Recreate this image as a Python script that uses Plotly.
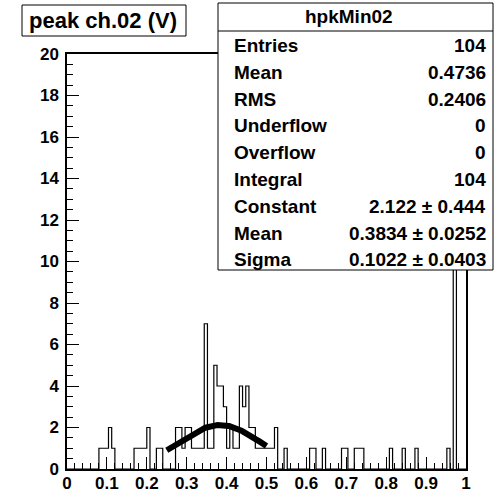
import numpy as np
import plotly.graph_objects as go

# ---- histogram hpkMin02 : peak amplitude of channel 02 -------------------
hist_name = "hpkMin02"
axis_title = "peak ch.02 (V)"
x_min, x_max, n_bins = 0.0, 1.0, 125
counts = [
    0, 0, 0, 0, 0, 0, 0, 0, 0, 0, 1, 1, 1, 2, 1, 0, 0, 0, 0, 0, 0, 1, 1, 1, 1,    # bins 0-24
    2, 0, 0, 1, 1, 0, 0, 0, 0, 2, 2, 1, 2, 2, 1, 1, 1, 1, 7, 1, 1, 5, 4, 4, 3,    # bins 25-49
    1, 2, 1, 1, 4, 3, 4, 2, 2, 1, 1, 1, 1, 1, 1, 2, 0, 0, 1, 0, 0, 0, 0, 0, 0,    # bins 50-74
    0, 1, 1, 0, 0, 1, 0, 0, 0, 0, 0, 1, 1, 0, 0, 1, 1, 1, 0, 0, 0, 0, 0, 0, 0,    # bins 75-99
    0, 1, 0, 0, 0, 1, 0, 0, 0, 1, 0, 0, 0, 0, 0, 0, 0, 0, 0, 1, 0, 11, 0, 0, 0,   # bins 100-124
]

# ---- statistics box --------------------------------------------------------
stat_labels = ["Entries", "Mean", "RMS", "Underflow", "Overflow", "Integral"]
stat_values = ["104", "0.4736", "0.2406", "0", "0", "104"]

# gaussian fit: (name, value, error)
fit_names = ["Constant", "Mean", "Sigma"]
fit_values = [2.122, 0.3834, 0.1022]
fit_errors = [0.444, 0.0252, 0.0403]
fit_digits = [3, 4, 4]
fit_range = [0.25, 0.50]

# ---- geometry of the canvas (pixels) ----------------------------------------
W, H = 499, 493
L, R, T, B = 67, 466, 54, 469          # frame edges


def px(xp):
    return (xp - L) / (R - L)


def py(yp):
    return (B - yp) / (B - T)


FONT = "Liberation Sans"

bin_w = (x_max - x_min) / n_bins
edges = [x_min + i * bin_w for i in range(n_bins + 1)]
step_y = list(counts) + [counts[-1]]

fig = go.Figure()

# histogram outline
fig.add_trace(go.Scatter(
    x=edges, y=step_y, mode="lines", line_shape="hv",
    line=dict(color="black", width=1.2), hoverinfo="skip",
))

# fitted gaussian over the fit range
c, mu, sg = fit_values
gx = np.linspace(fit_range[0], fit_range[1], 200)
gy = c * np.exp(-0.5 * ((gx - mu) / sg) ** 2)
fig.add_trace(go.Scatter(
    x=gx, y=gy, mode="lines",
    line=dict(color="black", width=6), hoverinfo="skip",
))

tickfont = dict(family=FONT, size=17, color="black", weight="bold")
fig.update_layout(
    width=W, height=H,
    margin=dict(l=L, r=W - R, t=T, b=H - B, pad=0, autoexpand=False),
    paper_bgcolor="white", plot_bgcolor="white",
    showlegend=False,
    xaxis=dict(
        range=[x_min, x_max], tick0=0, dtick=0.1, automargin=False,
        ticks="inside", ticklen=12, tickwidth=1, tickcolor="black",
        minor=dict(dtick=0.02, ticks="inside", ticklen=6, tickwidth=1, tickcolor="black"),
        showline=True, linecolor="black", linewidth=1.5, mirror=True,
        showgrid=False, zeroline=False, tickfont=tickfont, ticklabelstandoff=-2,
    ),
    yaxis=dict(
        range=[0, 20], tick0=0, dtick=2, automargin=False,
        ticks="inside", ticklen=12, tickwidth=1, tickcolor="black",
        minor=dict(dtick=0.5, ticks="inside", ticklen=6, tickwidth=1, tickcolor="black"),
        showline=True, linecolor="black", linewidth=1.5, mirror=True,
        showgrid=False, zeroline=False, tickfont=tickfont, ticklabelstandoff=3,
    ),
)

shapes = []
annotations = []

# title box
shapes.append(dict(type="rect", xref="paper", yref="paper",
                   x0=px(22), x1=px(186), y0=py(36), y1=py(5),
                   line=dict(color="black", width=1), fillcolor="white", layer="above"))
annotations.append(dict(xref="paper", yref="paper", x=px(103), y=py(20.5),
                        text=axis_title, showarrow=False, xanchor="center", yanchor="middle",
                        font=dict(family=FONT, size=22, color="black", weight="bold")))

# statistics box
sx0, sx1, sy0, sy1 = 218, 493, 3, 270
shapes.append(dict(type="rect", xref="paper", yref="paper",
                   x0=px(sx0), x1=px(sx1), y0=py(sy1), y1=py(sy0),
                   line=dict(color="black", width=1), fillcolor="white", layer="above"))
shapes.append(dict(type="line", xref="paper", yref="paper",
                   x0=px(sx0), x1=px(sx1), y0=py(31), y1=py(31),
                   line=dict(color="black", width=1), layer="above"))
annotations.append(dict(xref="paper", yref="paper", x=px(349), y=py(17),
                        text=hist_name, showarrow=False, xanchor="center", yanchor="middle",
                        font=dict(family=FONT, size=19, color="black", weight="bold")))

rows_l = list(stat_labels) + list(fit_names)
rows_v = list(stat_values) + [
    f"{v:.{d}f} \u00b1 {e:.{d}f}" for v, e, d in zip(fit_values, fit_errors, fit_digits)
]
row_font = dict(family=FONT, size=19, color="black", weight="bold")
for i, (lab, val) in enumerate(zip(rows_l, rows_v)):
    yc = 45.5 + i * 26.8
    annotations.append(dict(xref="paper", yref="paper", x=px(232), y=py(yc),
                            text=lab, showarrow=False, xanchor="left", yanchor="middle",
                            font=row_font))
    annotations.append(dict(xref="paper", yref="paper", x=px(488), y=py(yc),
                            text=val, showarrow=False, xanchor="right", yanchor="middle",
                            font=row_font))

fig.update_layout(shapes=shapes, annotations=annotations)
fig.write_html("out.html")
